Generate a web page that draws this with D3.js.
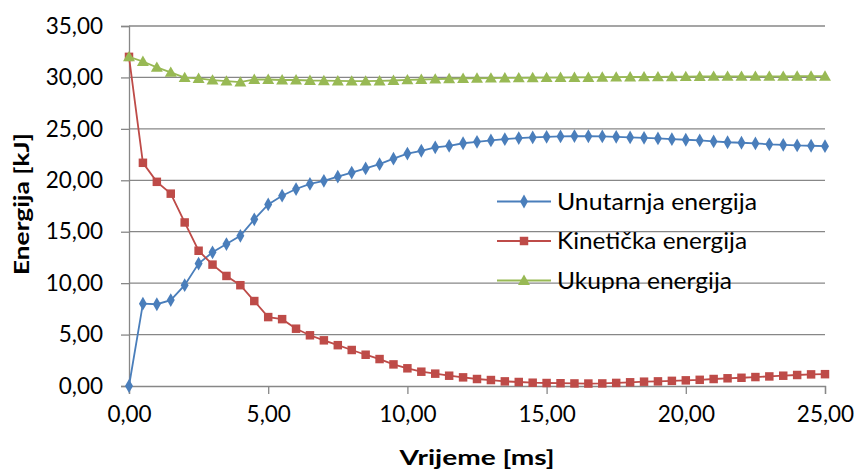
<!DOCTYPE html>
<html>
<head>
<meta charset="utf-8">
<script src="https://cdn.jsdelivr.net/npm/d3@7"></script>
<style>
  html, body { margin: 0; padding: 0; background: #ffffff; }
  svg { display: block; }
  text { font-family: Lato, "Open Sans", "Liberation Sans", sans-serif; fill: #000; }
</style>
</head>
<body>
<svg id="chart" width="856" height="472"></svg>
<script>
// ---- data ----
const time = [0, 0.5, 1, 1.5, 2, 2.5, 3, 3.5, 4, 4.5, 5, 5.5, 6, 6.5, 7, 7.5, 8, 8.5, 9, 9.5,
  10, 10.5, 11, 11.5, 12, 12.5, 13, 13.5, 14, 14.5, 15, 15.5, 16, 16.5, 17, 17.5, 18, 18.5, 19, 19.5,
  20, 20.5, 21, 21.5, 22, 22.5, 23, 23.5, 24, 24.5, 25];

const unutarnja = [0, 8.0, 7.95, 8.35, 9.8, 11.9, 13.0, 13.8, 14.6, 16.2,
  17.65, 18.5, 19.15, 19.65, 19.95, 20.35, 20.75, 21.15, 21.57, 22.1,
  22.6, 22.87, 23.2, 23.35, 23.6, 23.74, 23.88, 24.0, 24.1, 24.17,
  24.23, 24.26, 24.3, 24.28, 24.26, 24.23, 24.17, 24.13, 24.07, 24.0,
  23.94, 23.88, 23.78, 23.7, 23.65, 23.58, 23.5, 23.45, 23.39, 23.36, 23.32];

const kineticka = [32.0, 21.7, 19.85, 18.7, 15.9, 13.15, 11.8, 10.7, 9.8, 8.26,
  6.7, 6.5, 5.57, 4.93, 4.44, 3.97, 3.5, 3.04, 2.62, 2.1,
  1.72, 1.39, 1.2, 1.0, 0.84, 0.68, 0.58, 0.45, 0.39, 0.32,
  0.29, 0.27, 0.25, 0.24, 0.25, 0.3, 0.36, 0.42, 0.45, 0.5,
  0.55, 0.6, 0.68, 0.75, 0.8, 0.87, 0.93, 1.0, 1.07, 1.13, 1.15];

const ukupna = [32.0, 31.55, 30.98, 30.5, 29.98, 29.9, 29.74, 29.64, 29.54, 29.8,
  29.8, 29.75, 29.75, 29.7, 29.68, 29.66, 29.64, 29.64, 29.66, 29.7,
  29.76, 29.8, 29.84, 29.87, 29.9, 29.92, 29.94, 29.95, 29.96, 29.97,
  29.98, 29.99, 30.0, 30.0, 30.02, 30.03, 30.04, 30.05, 30.06, 30.07,
  30.08, 30.09, 30.1, 30.1, 30.1, 30.11, 30.11, 30.11, 30.12, 30.12, 30.12];

const seriesNames = ["Unutarnja energija", "Kinetička energija", "Ukupna energija"];
const xTicks = [0, 5, 10, 15, 20, 25];
const yTicks = [0, 5, 10, 15, 20, 25, 30, 35];
const xTitle = "Vrijeme [ms]";
const yTitle = "Energija [kJ]";

// ---- layout / style ----
const colors = ["#4a7ebb", "#be4b48", "#98b954"];
const shapes = [d3.symbolDiamond, d3.symbolSquare, d3.symbolTriangle];
const shapeSizes = [55, 72, 62];
const gridColor = "#878787";
const fmt = v => v.toFixed(2).replace(".", ",");

const svg = d3.select("#chart");
const x = d3.scaleLinear().domain([0, 25]).range([129, 825]);
const y = d3.scaleLinear().domain([0, 35]).range([386, 26]);

// gridlines
svg.append("g").selectAll("line").data(yTicks.filter(v => v > 0)).join("line")
  .attr("x1", x(0)).attr("x2", x(25))
  .attr("y1", d => y(d)).attr("y2", d => y(d))
  .attr("stroke", gridColor).attr("stroke-width", 1.3);

// y axis
const yAxis = svg.append("g").attr("transform", `translate(${x(0)},0)`)
  .call(d3.axisLeft(y).tickValues(yTicks).tickFormat(fmt).tickSize(8).tickPadding(18));
yAxis.select(".domain").attr("stroke", gridColor).attr("stroke-width", 1.3);
yAxis.selectAll(".tick line").attr("stroke", gridColor).attr("stroke-width", 1.3);
yAxis.selectAll(".tick text").attr("font-size", 22.5).attr("font-family", "Lato, 'Open Sans', sans-serif").attr("fill", "#000");

// x axis
const xAxis = svg.append("g").attr("transform", `translate(0,${y(0)})`)
  .call(d3.axisBottom(x).tickValues(xTicks).tickFormat(fmt).tickSize(8).tickPadding(12));
xAxis.select(".domain").attr("stroke", gridColor).attr("stroke-width", 1.3);
xAxis.selectAll(".tick line").attr("stroke", gridColor).attr("stroke-width", 1.3);
xAxis.selectAll(".tick text").attr("font-size", 22.5).attr("font-family", "Lato, 'Open Sans', sans-serif").attr("fill", "#000");

// series
const allSeries = [unutarnja, kineticka, ukupna];
const line = d3.line().x((d, i) => x(time[i])).y(d => y(d));
allSeries.forEach((vals, s) => {
  const g = svg.append("g");
  g.append("path").datum(vals).attr("d", line)
    .attr("fill", "none").attr("stroke", colors[s]).attr("stroke-width", 1.8);
  g.selectAll("path.m").data(vals).join("path").attr("class", "m")
    .attr("d", d3.symbol().type(shapes[s]).size(shapeSizes[s]))
    .attr("transform", (d, i) => `translate(${x(time[i])},${y(d) + (s === 2 ? 1 : 0)})`)
    .attr("fill", colors[s]);
});

// legend
const legendRows = [201.5, 241, 280.5];
const legendWidths = [200, 190, 175];
seriesNames.forEach((name, s) => {
  const g = svg.append("g").attr("transform", `translate(0,${legendRows[s]})`);
  g.append("line").attr("x1", 497).attr("x2", 551).attr("y1", 0).attr("y2", 0)
    .attr("stroke", colors[s]).attr("stroke-width", 1.8);
  g.append("path").attr("d", d3.symbol().type(shapes[s]).size(shapeSizes[s]))
    .attr("transform", `translate(524,${s === 2 ? 1 : 0})`).attr("fill", colors[s]);
  g.append("text").attr("x", 557).attr("y", 0).attr("dy", "0.36em")
    .attr("font-size", 23.5).attr("textLength", legendWidths[s]).attr("lengthAdjust", "spacingAndGlyphs")
    .text(name);
});

// titles
svg.append("text").attr("x", 477).attr("y", 465).attr("text-anchor", "middle")
  .attr("font-size", 21).attr("font-weight", "bold")
  .attr("textLength", 155).attr("lengthAdjust", "spacingAndGlyphs").text(xTitle);
svg.append("text").attr("transform", "translate(29,204) rotate(-90)").attr("text-anchor", "middle")
  .attr("font-size", 21).attr("font-weight", "bold")
  .attr("textLength", 142).attr("lengthAdjust", "spacingAndGlyphs").text(yTitle);
</script>
</body>
</html>
